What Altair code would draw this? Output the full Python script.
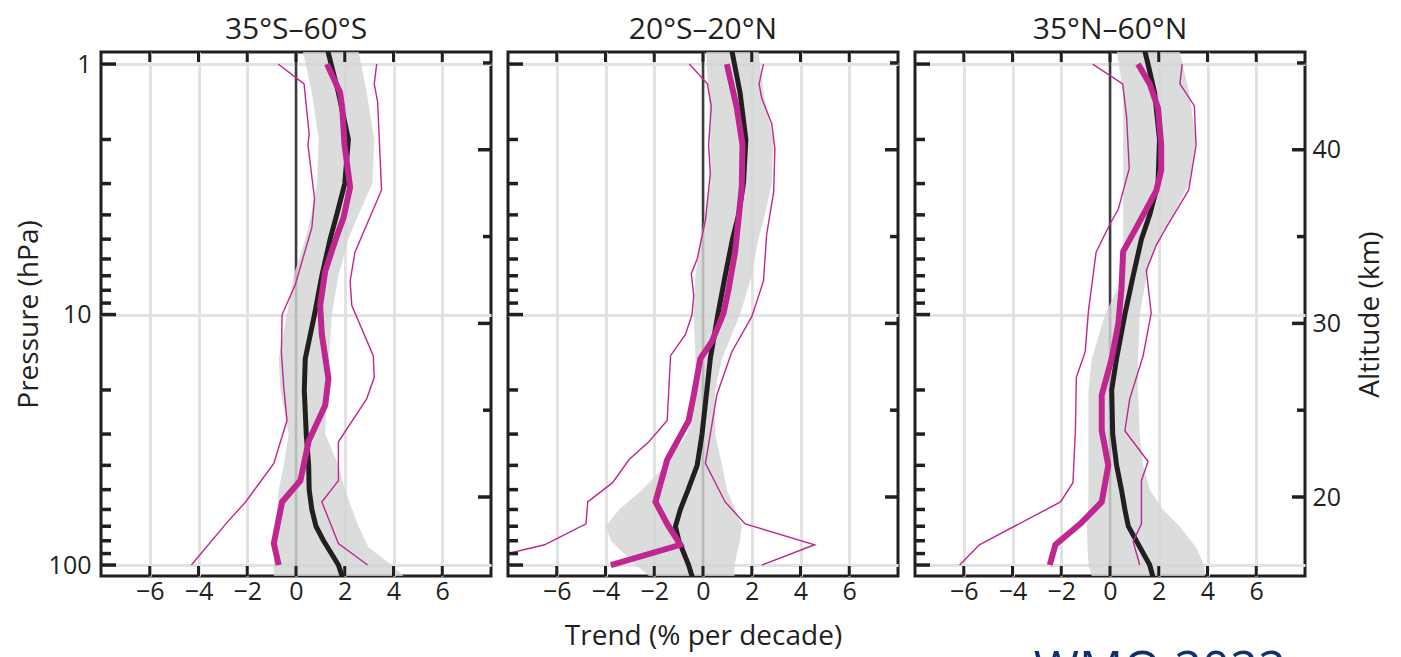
import altair as alt
import pandas as pd

# ---------------- data ----------------
TITLES = ["35°S–60°S", "20°S–20°N", "35°N–60°N"]
X_TICKS = [-6, -4, -2, 0, 2, 4, 6]
P_LABELS = [1, 10, 100]
P_MINOR = [2, 3, 4, 5, 6, 7, 8, 9, 20, 30, 40, 50, 60, 70, 80, 90]
Z_MAJOR = [20, 30, 40]
Z_MINOR = [25, 35, 45]

# Panel 1: 35S-60S
s_black_p = [0.88, 1, 1.3, 2, 3, 4, 5, 7, 10, 15, 20, 30, 40, 50, 60, 70, 80, 100, 115]
s_black_x = [1.3, 1.44, 1.74, 2.15, 2.0, 1.67, 1.4, 1.06, 0.76, 0.38, 0.34, 0.42, 0.52, 0.54, 0.65, 0.82, 1.13, 1.74, 1.95]
s_band_p = [0.88, 1.3, 2, 3, 4, 5, 7, 10, 15, 20, 30, 40, 50, 70, 85, 100, 115]
s_band_lo = [0.27, 0.65, 0.93, 0.86, 0.62, 0.38, -0.1, -0.37, -0.71, -0.64, -0.3, -0.5, -0.71, -0.84, -0.88, -0.91, -0.91]
s_band_hi = [2.56, 2.9, 3.21, 3.14, 2.56, 2.15, 1.74, 1.47, 1.36, 1.27, 1.2, 1.74, 2.01, 2.56, 2.97, 3.92, 4.6]
s_mag_p = [1, 1.3, 1.5, 2.1, 3.1, 4.1, 5.1, 6.7, 9.2, 12, 18, 23, 32, 46, 56, 82, 100]
s_mag_x = [1.27, 1.81, 1.9, 1.99, 2.22, 1.95, 1.6, 1.2, 0.99, 1.06, 1.33, 1.2, 0.52, 0.18, -0.57, -0.91, -0.71]
s_lo_p = [1, 1.2, 1.9, 2.1, 3.45, 4.5, 7.6, 10, 14.1, 19.6, 26.5, 39.3, 56, 68.5, 100]
s_lo_x = [-0.73, 0.33, 0.54, 0.49, 0.76, 0.65, -0.03, -0.57, -0.6, -0.5, -0.37, -0.91, -2.07, -2.88, -4.29]
s_hi_p = [1, 1.2, 1.42, 3.18, 5.64, 7.35, 9.2, 14.6, 17.8, 21.7, 32.2, 46, 56, 82, 100]
s_hi_x = [3.31, 3.21, 3.35, 3.51, 2.42, 2.22, 2.29, 3.17, 3.21, 2.9, 1.74, 1.74, 1.06, 1.74, 2.94]

# Panel 2: 20S-20N
t_black_p = [0.88, 1, 1.3, 2, 3, 4, 5, 7, 10, 15, 20, 30, 40, 50, 60, 70, 80, 100, 115]
t_black_x = [1.18, 1.29, 1.52, 1.76, 1.66, 1.46, 1.21, 0.91, 0.61, 0.30, 0.16, -0.04, -0.24, -0.61, -0.93, -1.13, -0.99, -0.59, -0.4]
t_band_p = [0.88, 1.3, 2, 3, 4, 5, 7, 10, 15, 20, 30, 40, 50, 60, 70, 80, 100, 115]
t_band_lo = [0.12, 0.23, 0.3, 0.3, 0.1, -0.11, -0.31, -0.38, -0.31, -0.31, -0.65, -1.54, -2.49, -3.44, -3.99, -3.78, -2.76, -2.0]
t_band_hi = [2.27, 2.48, 2.88, 2.82, 2.54, 2.27, 2.0, 1.52, 0.78, 0.5, 0.5, 0.78, 0.98, 1.32, 1.59, 1.52, 1.29, 1.29]
t_mag_p = [1, 1.5, 2.1, 3.1, 5.6, 7.9, 9.9, 12.8, 15, 21, 26.5, 38, 56, 68.5, 83, 100]
t_mag_x = [0.98, 1.39, 1.62, 1.59, 1.32, 1.05, 0.84, 0.37, -0.11, -0.38, -0.59, -1.47, -1.95, -1.47, -0.93, -3.78]
t_lo_p = [1, 1.2, 1.47, 2.11, 2.74, 4.2, 6.0, 6.87, 8.4, 10, 12, 14.6, 26.5, 32.2, 37.9, 46.9, 56, 68.5, 83, 100]
t_lo_x = [-0.56, 0.18, 0.34, 0.23, 0.3, 0.1, -0.24, -0.48, -0.38, -0.45, -0.72, -1.33, -1.47, -2.22, -3.03, -3.71, -4.73, -4.8, -6.5, -10.0]
t_hi_p = [1, 1.2, 1.37, 1.73, 2.18, 3.23, 4.8, 7.35, 8.1, 10.2, 14.1, 20.9, 39.3, 56, 68.5, 83, 100]
t_hi_x = [2.48, 2.3, 2.41, 2.82, 2.95, 2.9, 2.61, 2.48, 2.34, 2.0, 1.18, 0.57, 0.1, 0.91, 1.73, 4.58, 2.41]

# Panel 3: 35N-60N
n_black_p = [0.88, 1, 1.3, 2, 3, 4, 5, 7, 10, 15, 20, 30, 40, 50, 60, 70, 80, 100, 115]
n_black_x = [1.42, 1.56, 1.83, 2.03, 1.97, 1.63, 1.29, 0.95, 0.61, 0.27, 0.07, 0.11, 0.27, 0.47, 0.61, 0.75, 1.08, 1.63, 1.8]
n_band_p = [0.88, 1.3, 2, 3, 4, 5, 7, 8, 10, 15, 20, 30, 40, 50, 60, 70, 85, 100, 115]
n_band_lo = [0.27, 0.54, 0.54, 0.54, 0.54, 0.54, 0.54, 0.27, -0.2, -0.75, -0.88, -0.88, -0.88, -0.88, -0.9, -0.95, -0.92, -0.88, -0.7]
n_band_hi = [2.85, 3.25, 3.53, 3.25, 2.58, 1.97, 1.49, 1.4, 1.22, 1.15, 1.15, 1.22, 1.36, 1.63, 2.17, 2.85, 3.53, 3.86, 3.9]
n_mag_p = [1, 1.2, 1.5, 2.1, 2.65, 3.2, 4.5, 5.6, 7.9, 10.9, 15, 21, 29, 40, 56, 68.5, 83, 100]
n_mag_x = [1.15, 1.63, 1.97, 2.1, 2.1, 1.9, 1.08, 0.54, 0.47, 0.34, 0.07, -0.34, -0.34, -0.07, -0.34, -1.22, -2.24, -2.47]
n_lo_p = [1, 1.2, 1.62, 2.61, 3.8, 4.35, 5.64, 9.6, 14.1, 17.8, 29.1, 46.9, 56, 83, 100]
n_lo_x = [-0.71, 0.52, 0.68, 0.79, 0.34, 0, -0.57, -0.88, -1.02, -1.38, -1.42, -1.52, -2.03, -5.36, -6.17]
n_hi_p = [1, 1.2, 1.47, 2.11, 3.18, 4.49, 5.28, 6.66, 9.86, 14.6, 21.7, 29.1, 38.6, 46, 68.5, 80.6, 100]
n_hi_x = [2.96, 2.87, 3.46, 3.53, 3.23, 2.31, 1.9, 1.49, 1.69, 1.36, 0.81, 0.61, 1.56, 1.29, 1.29, 0.95, 1.22]

# ---------------- styling ----------------
W, H = 390, 524
INK = "#231f20"
MAG = "#c0268f"
BAND = "#d3d5d5"
GRID = "#e2e2e2"
FONT = "Open Sans"
X_DOMAIN = [-8, 8]
P_DOMAIN = [0.895, 110.6]
Z_DOMAIN = [15.45, 45.63]


def line_df(p, x):
    return pd.DataFrame({"p": p, "x": x, "i": list(range(len(p)))})


def panel(idx, black, band, mag, lo, hi):
    first = idx == 0
    middle = idx == 1
    last = idx == 2
    xs = alt.Scale(domain=X_DOMAIN, nice=False, zero=False)
    ys = alt.Scale(type="log", domain=P_DOMAIN, reverse=True, nice=False)
    zs = alt.Scale(domain=Z_DOMAIN, nice=False, zero=False)

    x_axis = alt.Axis(values=X_TICKS, grid=True, labelPadding=3,
                      title="Trend (% per decade)" if middle else None,
                      titlePadding=18)
    y_axis = alt.Axis(values=P_LABELS, format="~g", grid=True,
                      labels=first, labelPadding=10,
                      title="Pressure  (hPa)" if first else None,
                      titlePadding=5)

    def X(field):
        return alt.X(field, scale=xs, axis=x_axis)

    def Y(field):
        return alt.Y(field, scale=ys, axis=y_axis)

    zero = alt.Chart(pd.DataFrame({"x": [0]})).mark_rule(
        color="#3d3d3d", strokeWidth=2.5
    ).encode(x=X("x:Q"))

    band_df = pd.DataFrame({"p": band[0], "lo": band[1], "hi": band[2]})
    band_ch = alt.Chart(band_df).mark_area(
        color=BAND, opacity=0.82, orient="horizontal", clip=True
    ).encode(y=Y("p:Q"), x=X("lo:Q"), x2="hi:Q")

    def ln(p, x, color, width):
        return alt.Chart(line_df(p, x)).mark_line(
            color=color, strokeWidth=width, clip=True
        ).encode(y=Y("p:Q"), x=X("x:Q"), order="i:Q")

    black_ch = ln(black[0], black[1], INK, 5)
    lo_ch = ln(lo[0], lo[1], MAG, 1.4)
    hi_ch = ln(hi[0], hi[1], MAG, 1.4)
    mag_ch = ln(mag[0], mag[1], MAG, 6)

    # inward pressure ticks on the left edge
    pmaj = alt.Chart(pd.DataFrame({"p": P_LABELS})).mark_rule(
        color=INK, strokeWidth=3.5
    ).encode(y=Y("p:Q"), x=alt.value(0), x2=alt.value(15))
    pmin = alt.Chart(pd.DataFrame({"p": P_MINOR})).mark_rule(
        color=INK, strokeWidth=3.5
    ).encode(y=Y("p:Q"), x=alt.value(0), x2=alt.value(10))
    # inward trend ticks on top and bottom edges
    xt_top = alt.Chart(pd.DataFrame({"x": X_TICKS})).mark_rule(
        color=INK, strokeWidth=3
    ).encode(x=X("x:Q"), y=alt.value(0), y2=alt.value(10))
    xt_bot = alt.Chart(pd.DataFrame({"x": X_TICKS})).mark_rule(
        color=INK, strokeWidth=3
    ).encode(x=X("x:Q"), y=alt.value(H - 10), y2=alt.value(H))

    inner = alt.layer(zero, band_ch, black_ch, lo_ch, hi_ch, mag_ch,
                      pmaj, pmin, xt_top, xt_bot)

    if last:
        z_axis = alt.Axis(values=Z_MAJOR, orient="right", grid=False,
                          labelPadding=7, title="Altitude (km)",
                          titleAngle=270, titleBaseline="top",
                          titlePadding=16)
    else:
        z_axis = None
    zmaj = alt.Chart(pd.DataFrame({"z": Z_MAJOR})).mark_rule(
        color=INK, strokeWidth=3.5
    ).encode(y=alt.Y("z:Q", scale=zs, axis=z_axis),
             x=alt.value(W - 13), x2=alt.value(W))
    zmin = alt.Chart(pd.DataFrame({"z": Z_MINOR})).mark_rule(
        color=INK, strokeWidth=3.5
    ).encode(y=alt.Y("z:Q", scale=zs, axis=z_axis),
             x=alt.value(W - 8), x2=alt.value(W))
    alt_layer = alt.layer(zmaj, zmin)

    return alt.layer(inner, alt_layer).resolve_scale(y="independent").properties(
        width=W, height=H,
        title=alt.TitleParams(TITLES[idx], fontSize=30, font=FONT,
                              fontWeight="normal", color=INK, offset=6),
    )


p1 = panel(0, (s_black_p, s_black_x), (s_band_p, s_band_lo, s_band_hi),
           (s_mag_p, s_mag_x), (s_lo_p, s_lo_x), (s_hi_p, s_hi_x))
p2 = panel(1, (t_black_p, t_black_x), (t_band_p, t_band_lo, t_band_hi),
           (t_mag_p, t_mag_x), (t_lo_p, t_lo_x), (t_hi_p, t_hi_x))
p3 = panel(2, (n_black_p, n_black_x), (n_band_p, n_band_lo, n_band_hi),
           (n_mag_p, n_mag_x), (n_lo_p, n_lo_x), (n_hi_p, n_hi_x))

chart = alt.hconcat(p1, p2, p3, spacing=9).properties(
    title=alt.TitleParams("WMO  2022", orient="bottom", anchor="end",
                          fontSize=49, font=FONT, fontWeight="normal",
                          color="#12306e", offset=-5, dx=-100),
    padding={"left": 5, "top": 5, "right": 5, "bottom": 5},
).configure_view(
    stroke=INK, strokeWidth=3
).configure_axis(
    labelFont=FONT, labelFontSize=25, labelColor=INK,
    titleFont=FONT, titleFontSize=28, titleFontWeight="normal", titleColor=INK,
    gridColor=GRID, gridWidth=3, ticks=False, tickSize=0, domain=False,
)

chart.save("out.html", embed_options={"renderer": "svg", "actions": False})
